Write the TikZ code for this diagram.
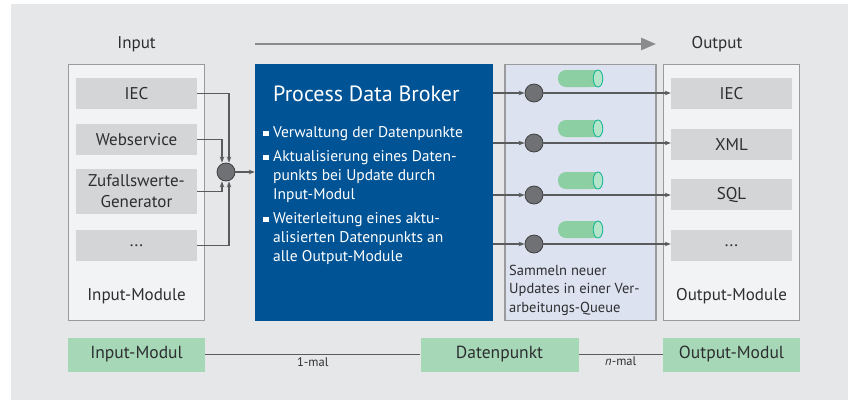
\documentclass[tikz,border=0pt]{standalone}
\usepackage{fontspec}
\setmainfont{PT Sans}
\usetikzlibrary{arrows.meta}

\definecolor{bgcol}{HTML}{E6E7E8}
\definecolor{modfill}{HTML}{F2F3F4}
\definecolor{modline}{HTML}{9A9B9D}
\definecolor{itemfill}{HTML}{D4D5D7}
\definecolor{brokerblue}{HTML}{005496}
\definecolor{queuefill}{HTML}{DCE2EF}
\definecolor{dotfill}{HTML}{707174}
\definecolor{linkcol}{HTML}{5A5B5D}
\definecolor{txtcol}{HTML}{2D2E30}
\definecolor{tagbody}{HTML}{8CCFA3}
\definecolor{tagend}{HTML}{B5E5C8}
\definecolor{tagline}{HTML}{1AB79A}
\definecolor{entfill}{HTML}{A6D8B8}
\definecolor{flowcol}{HTML}{8A8B8D}

\newcommand{\sqbul}{\rule[1pt]{5.5pt}{5.5pt}}

\begin{document}
\begin{tikzpicture}[x=1pt,y=-1pt,
  every node/.style={text=txtcol},
  modbox/.style={draw=modline,line width=1.2pt,fill=modfill,minimum width=136pt,minimum height=256pt,inner sep=0pt},
  item/.style={fill=itemfill,minimum width=121pt,minimum height=31pt,inner sep=0pt,align=center,
    font=\fontsize{17}{21}\selectfont},
  heading/.style={font=\fontsize{17}{21}\selectfont},
  dot/.style={circle,draw=linkcol!70!black,fill=dotfill,line width=0.8pt,minimum size=18pt,inner sep=0pt},
  link/.style={draw=linkcol,line width=1.1pt,-{Stealth[length=6pt,width=4.5pt]}},
  entity/.style={fill=entfill,minimum height=34pt,inner sep=0pt,font=\fontsize{17.5}{21}\selectfont},
  relation/.style={draw=linkcol,line width=1.3pt},
  mult/.style={font=\fontsize{12.5}{14}\selectfont,inner sep=2pt}]
  \useasboundingbox (0,0) rectangle (848,400);
  \fill[white] (0,0) rectangle (848,400);
  \fill[bgcol] (11,4) rectangle (848,400);

  % Flow arrow on top
  \coordinate (flowa) at (255,44);
  \coordinate (flowb) at (656,44);
  \draw[flowcol,line width=2.6pt,-{Triangle[length=15pt,width=12pt]}] (flowa) -- (flowb);
  \node[heading] (inlabel) at (136.5,44) {Input};
  \node[heading] (outlabel) at (717,44) {Output};

  % Input modules
  \node[modbox] (inbox) at (136.5,192.5) {};
  \node[item] (in1) at (136.5,93.5) {IEC};
  \node[item] (in2) at (136.5,139.5) {Webservice};
  \node[item,minimum height=45pt] (in3) at (136.5,191.5) {Zufallswerte-\\Generator};
  \node[item] (in4) at (136.5,245.5) {...};
  \node[heading] (inname) at (136.5,296) {Input-Module};

  % Merge point
  \node[dot] (junc) at (226,172) {};
  \draw[link] (in1.east) -| ([xshift=3pt]junc.north);
  \draw[link] (in2.east) -| ([xshift=-4pt]junc.north);
  \draw[link] (in3.east) -| ([xshift=-4pt]junc.south);
  \draw[link] (in4.east) -| ([xshift=3pt]junc.south);

  % Broker
  \node[fill=brokerblue,minimum width=238pt,minimum height=257pt,inner sep=0pt] (broker) at (374,192.5) {};
  \draw[link] (junc.east) -- (junc.east -| broker.west);
  \node[anchor=base west,inner sep=0pt,text=white,font=\fontsize{22}{26}\selectfont] (btitle) at (273,101.5) {Process Data Broker};
  \node[anchor=north west,inner sep=0pt,text=white,font=\fontsize{15.5}{19.2}\selectfont] (blist) at (263,123.6) {%
    \begin{tabular}{@{}l@{\hspace{4.5pt}}l@{}}
      \sqbul & Verwaltung der Datenpunkte\\[4.6pt]
      \sqbul & Aktualisierung eines Daten-\\
             & punkts bei Update durch\\
             & Input-Modul\\[4.6pt]
      \sqbul & Weiterleitung eines aktu-\\
             & alisierten Datenpunkts an\\
             & alle Output-Module
    \end{tabular}};

  % Queues
  \node[draw=modline,line width=1.2pt,fill=queuefill,minimum width=151pt,minimum height=256pt,inner sep=0pt] (queue) at (580.5,192.5) {};
  \node[anchor=north west,inner sep=0pt,font=\fontsize{14.5}{18.5}\selectfont] (qtext) at (509,262) {%
    \begin{tabular}{@{}l@{}}
      Sammeln neuer\\
      Updates in einer Ver-\\
      arbeitungs-Queue
    \end{tabular}};

  % Output modules
  \node[modbox] (outbox) at (731.5,192.5) {};
  \node[item] (out1) at (731.5,93.5) {IEC};
  \node[item] (out2) at (731.5,144.5) {XML};
  \node[item] (out3) at (731.5,194.5) {SQL};
  \node[item] (out4) at (731.5,245.5) {...};
  \node[heading] (outname) at (731.5,296) {Output-Module};

  \foreach \i/\y in {1/93,2/143,3/195,4/244}{
    \node[dot] (q\i) at (534,\y) {};
    \draw[link] (q\i -| broker.east) -- (q\i.west);
    \draw[link] (q\i.east) -- (q\i.east -| out\i.west);
    % queue symbol
    \fill[tagbody,rounded corners=8pt] (558,\y-23) rectangle (598,\y-6);
    \fill[tagbody] (590,\y-23) rectangle (598,\y-6);
    \draw[tagline,fill=tagend,line width=0.9pt] (598,\y-14.5) ellipse (4.8pt and 8.5pt);
  }

  % Data model
  \node[entity,minimum width=137pt] (emod) at (136.5,354.5) {Input-Modul};
  \node[entity,minimum width=158pt] (edata) at (499.5,354.5) {Datenpunkt};
  \node[entity,minimum width=137pt] (eout) at (731.5,354.5) {Output-Modul};
  \draw[relation] (emod.east) -- (edata.west) node[midway,below,mult] {1-mal};
  \draw[relation] (edata.east) -- (eout.west) node[midway,below,mult] {\textit{n}-mal};
\end{tikzpicture}
\end{document}
